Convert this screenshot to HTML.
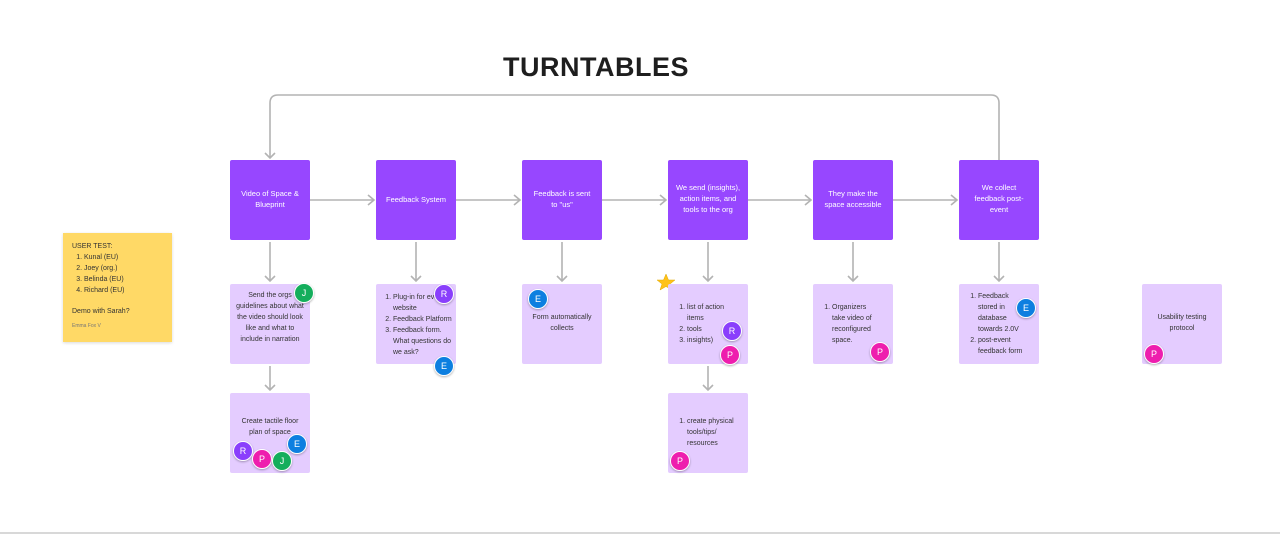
<!DOCTYPE html>
<html><head><meta charset="utf-8"><style>
body{margin:0;width:1280px;height:535px;background:#fff;position:relative;overflow:hidden;font-family:"Liberation Sans",sans-serif}
.p{position:absolute;width:80px;height:80px;background:#9747ff;border-radius:2px;color:#fff;font-size:7.5px;line-height:11px;text-align:center;box-sizing:border-box;padding:0 11px;}
.l{position:absolute;width:80px;height:80px;background:#e4ccff;border-radius:2px;color:#333;font-size:7px;line-height:11px;box-sizing:border-box;padding:4px 7px;}
.a{position:absolute;width:18px;height:18px;border-radius:50%;border:1.5px solid #fff;color:#fff;font-size:9px;line-height:18px;text-align:center;box-shadow:0 1px 2px rgba(0,0,0,.3)}
.R{background:#8a3ffc}.P{background:#ee1eae}.J{background:#14ae5c}.E{background:#0d7fe0}
ol{margin:0;padding-left:13px}
</style></head><body>
<div style="position:absolute;left:0;top:52px;width:1192px;text-align:center;font-size:27px;font-weight:bold;color:#1e1e1e;letter-spacing:0.5px">TURNTABLES</div>
<svg width="1280" height="535" style="position:absolute;left:0;top:0">
<g stroke="#b3b3b3" stroke-width="1.6" fill="none">
<path d="M999 160 V103 Q999 95 991 95 H278 Q270 95 270 103 V158"/>
<path d="M265 153 L270 158 L275 153"/>
<path d="M310 200 H374 M368 195 L374 200 L368 205"/>
<path d="M456 200 H520 M514 195 L520 200 L514 205"/>
<path d="M602 200 H666 M660 195 L666 200 L660 205"/>
<path d="M748 200 H811 M805 195 L811 200 L805 205"/>
<path d="M893 200 H957 M951 195 L957 200 L951 205"/>
<path d="M270 242 V281 M265 276 L270 281 L275 276"/>
<path d="M416 242 V281 M411 276 L416 281 L421 276"/>
<path d="M562 242 V281 M557 276 L562 281 L567 276"/>
<path d="M708 242 V281 M703 276 L708 281 L713 276"/>
<path d="M853 242 V281 M848 276 L853 281 L858 276"/>
<path d="M999 242 V281 M994 276 L999 281 L1004 276"/>
<path d="M270 366 V390 M265 385 L270 390 L275 385"/>
<path d="M708 366 V390 M703 385 L708 390 L713 385"/>
</g>
<line x1="0" y1="533" x2="1280" y2="533" stroke="#ccc" stroke-width="1.5"/>
<polygon points="666,274 668.5,280 675,280 670,284 672,290 666,286.5 660,290 662,284 657,280 663.5,280" fill="#ffc21a" stroke="#e0a800" stroke-width=".5"/>
</svg>
<div style="position:absolute;left:63px;top:233px;width:109px;height:109px;background:#ffd966;box-shadow:0 1px 3px rgba(0,0,0,.15);font-size:7px;line-height:11px;color:#333;padding:8px 9px;box-sizing:border-box">USER TEST:<ol style="padding-left:12px"><li>Kunal (EU)</li><li>Joey (org.)</li><li>Belinda (EU)</li><li>Richard (EU)</li></ol><div style="margin-top:10px">Demo with Sarah?</div><div style="font-size:5px;color:#777;margin-top:4px">Emma Fox V</div></div>

<div class="p" style="left:230px;top:160px;padding-top:28px">Video of Space &amp; Blueprint</div>
<div class="p" style="left:376px;top:160px;padding-top:34px;padding-left:4px;padding-right:4px">Feedback System</div>
<div class="p" style="left:522px;top:160px;padding-top:28px">Feedback is sent to "us"</div>
<div class="p" style="left:668px;top:160px;padding-top:22px;padding-left:7px;padding-right:7px">We send (insights), action items, and tools to the org</div>
<div class="p" style="left:813px;top:160px;padding-top:28px;padding-left:9px;padding-right:9px">They make the space accessible</div>
<div class="p" style="left:959px;top:160px;padding-top:22px;padding-left:14px;padding-right:14px">We collect feedback post-event</div>

<div class="l" style="left:230px;top:284px;text-align:center;padding-top:6px;padding-left:5px;padding-right:5px">Send the orgs guidelines about what the video should look like and what to include in narration</div>
<div class="a J" style="left:294px;top:283px">J</div>
<div class="l" style="left:376px;top:284px;padding-top:8px;padding-left:4px;padding-right:3px"><ol><li>Plug-in for event website</li><li>Feedback Platform</li><li>Feedback form. What questions do we ask?</li></ol></div>
<div class="a R" style="left:434px;top:284px">R</div>
<div class="a E" style="left:434px;top:356px">E</div>
<div class="l" style="left:522px;top:284px;text-align:center;padding-top:28px">Form automatically collects</div>
<div class="a E" style="left:528px;top:289px">E</div>
<div class="l" style="left:668px;top:284px;padding-top:18px;padding-left:6px;padding-right:12px"><ol><li>list of action items</li><li>tools</li><li>insights)</li></ol></div>
<div class="a R" style="left:722px;top:321px">R</div>
<div class="a P" style="left:720px;top:345px">P</div>
<div class="l" style="left:813px;top:284px;padding-top:18px;padding-left:6px;padding-right:14px"><ol><li>Organizers take video of reconfigured space.</li></ol></div>
<div class="a P" style="left:870px;top:342px">P</div>
<div class="l" style="left:959px;top:284px;padding-top:7px;padding-left:6px;padding-right:14px"><ol><li>Feedback stored in database towards 2.0V</li><li>post-event feedback form</li></ol></div>
<div class="a E" style="left:1016px;top:298px">E</div>
<div class="l" style="left:1142px;top:284px;text-align:center;padding-top:28px;padding-left:10px;padding-right:10px">Usability testing protocol</div>
<div class="a P" style="left:1144px;top:344px">P</div>

<div class="l" style="left:230px;top:393px;text-align:center;padding-top:23px;padding-left:9px;padding-right:9px">Create tactile floor plan of space</div>
<div class="a R" style="left:233px;top:441px">R</div>
<div class="a P" style="left:252px;top:449px">P</div>
<div class="a J" style="left:272px;top:451px">J</div>
<div class="a E" style="left:287px;top:434px">E</div>
<div class="l" style="left:668px;top:393px;padding-top:23px;padding-left:6px;padding-right:10px"><ol><li>create physical tools/tips/ resources</li></ol></div>
<div class="a P" style="left:670px;top:451px">P</div>
</body></html>
